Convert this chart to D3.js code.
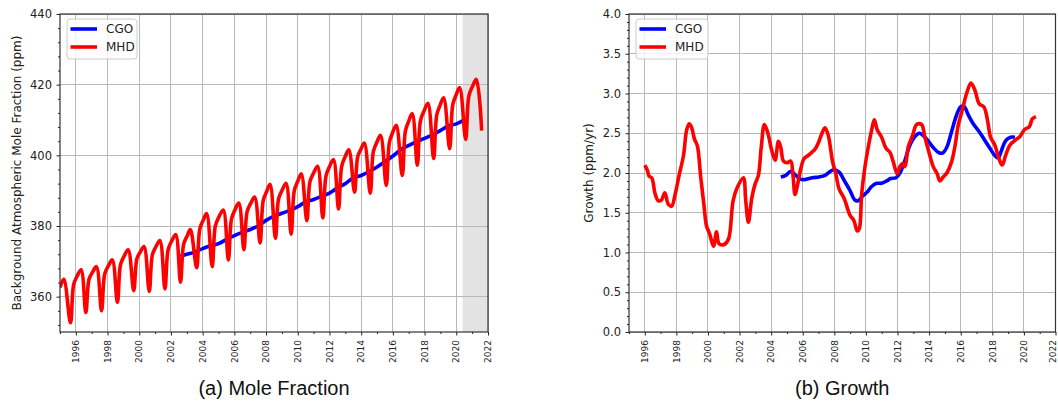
<!DOCTYPE html>
<html>
<head>
<meta charset="utf-8">
<script src="https://cdn.jsdelivr.net/npm/d3@7"></script>
<style>
  html, body { margin: 0; padding: 0; background: #fff; }
  svg { display: block; }
</style>
</head>
<body>
<script>
// ---- Data ----------------------------------------------------------------
// Background CO2 mole fraction (ppm), Mace Head (MHD) and Cape Grim (CGO)
const mhdMoleYears = [
  1995.00, 1995.24, 1995.66, 1995.86, 1996.08, 1996.33, 1996.63, 1996.83, 1997.06, 1997.30,
  1997.62, 1997.82, 1998.05, 1998.30, 1998.62, 1998.82, 1999.05, 1999.30, 1999.65, 1999.85,
  2000.07, 2000.30, 2000.63, 2000.83, 2001.06, 2001.30, 2001.62, 2001.82, 2002.05, 2002.30,
  2002.60, 2002.80, 2003.02, 2003.22, 2003.62, 2003.82, 2004.04, 2004.25, 2004.60, 2004.80,
  2005.03, 2005.30, 2005.62, 2005.82, 2006.04, 2006.28, 2006.60, 2006.80, 2007.03, 2007.28,
  2007.62, 2007.82, 2008.04, 2008.25, 2008.59, 2008.79, 2009.02, 2009.26, 2009.58, 2009.78,
  2010.00, 2010.22, 2010.57, 2010.77, 2011.00, 2011.25, 2011.58, 2011.78, 2012.00, 2012.25,
  2012.57, 2012.77, 2012.99, 2013.22, 2013.58, 2013.78, 2013.99, 2014.20, 2014.57, 2014.77,
  2014.99, 2015.22, 2015.58, 2015.78, 2015.99, 2016.21, 2016.59, 2016.79, 2017.00, 2017.22,
  2017.54, 2017.74, 2017.97, 2018.21, 2018.57, 2018.77, 2018.98, 2019.20, 2019.58, 2019.78,
  2019.99, 2020.21, 2020.59, 2020.79, 2021.02, 2021.26, 2021.60
];
const mhdMoleValues = [
  362.6, 364.9, 352.6, 363.4, 365.8, 367.6, 355.5, 364.9, 367.0, 368.5,
  356.0, 366.4, 368.7, 370.4, 358.4, 369.1, 371.5, 373.3, 361.7, 370.7,
  372.7, 374.2, 361.5, 371.9, 374.2, 375.9, 362.2, 373.3, 375.8, 377.6,
  364.1, 374.8, 377.2, 379.0, 368.2, 379.2, 381.7, 383.5, 368.5, 380.0,
  382.6, 384.5, 370.4, 382.0, 384.6, 386.5, 373.3, 384.0, 386.4, 388.2,
  375.2, 387.2, 389.8, 391.8, 376.5, 387.7, 390.2, 392.1, 377.7, 390.0,
  392.7, 394.8, 381.5, 392.6, 395.0, 396.9, 382.3, 394.2, 396.8, 398.8,
  384.8, 396.9, 399.6, 401.6, 389.6, 399.6, 401.8, 403.5, 389.3, 401.1,
  403.7, 405.7, 391.5, 403.7, 406.5, 408.5, 394.3, 406.9, 409.7, 411.8,
  397.2, 409.8, 412.6, 414.7, 399.1, 411.5, 414.2, 416.3, 401.9, 414.4,
  417.1, 419.2, 404.5, 416.7, 419.5, 421.5, 407.0
];
const cgoMoleYears = [
  2002.60, 2003.00, 2003.50, 2004.00, 2004.50, 2005.00, 2005.50, 2006.00, 2006.50, 2007.00,
  2007.50, 2008.00, 2008.50, 2009.00, 2009.50, 2010.00, 2010.50, 2011.00, 2011.50, 2012.00,
  2012.50, 2013.00, 2013.50, 2014.00, 2014.50, 2015.00, 2015.50, 2016.00, 2016.50, 2017.00,
  2017.50, 2018.00, 2018.50, 2019.00, 2019.50, 2020.00, 2020.42
];
const cgoMoleValues = [
  371.5, 372.0, 372.6, 373.6, 374.4, 375.0, 376.2, 377.3, 378.2, 379.0,
  380.0, 381.6, 382.8, 383.6, 384.4, 385.5, 386.8, 387.5, 388.4, 389.3,
  390.8, 392.0, 393.6, 394.3, 395.4, 396.7, 398.2, 399.8, 401.6, 402.8,
  403.9, 404.8, 405.8, 407.0, 408.3, 408.9, 409.8
];

// Growth rate (ppm/yr)
const mhdGrowthYears = [
  1996.00, 1996.17, 1996.27, 1996.44, 1996.65, 1996.86, 1997.05, 1997.27, 1997.48, 1997.69,
  1997.92, 1998.17, 1998.45, 1998.64, 1998.81, 1998.97, 1999.14, 1999.33, 1999.54, 1999.76,
  1999.90, 2000.11, 2000.35, 2000.54, 2000.70, 2001.02, 2001.30, 2001.59, 2001.86, 2002.24,
  2002.39, 2002.56, 2002.77, 2002.98, 2003.19, 2003.38, 2003.57, 2003.78, 2004.04, 2004.25,
  2004.46, 2004.61, 2004.78, 2005.03, 2005.24, 2005.39, 2005.51, 2005.68, 2005.87, 2006.08,
  2006.34, 2006.57, 2006.78, 2006.99, 2007.20, 2007.41, 2007.62, 2007.88, 2008.09, 2008.30,
  2008.62, 2008.99, 2009.24, 2009.45, 2009.58, 2009.73, 2009.94, 2010.15, 2010.36, 2010.53,
  2010.72, 2010.99, 2011.27, 2011.52, 2011.73, 2011.98, 2012.15, 2012.32, 2012.47, 2012.68,
  2012.95, 2013.21, 2013.52, 2013.73, 2013.95, 2014.26, 2014.51, 2014.68, 2014.89, 2015.15,
  2015.42, 2015.63, 2015.84, 2016.12, 2016.37, 2016.65, 2016.90, 2017.17, 2017.47, 2017.68,
  2017.89, 2018.16, 2018.42, 2018.63, 2018.84, 2019.11, 2019.43, 2019.75, 2020.06, 2020.34,
  2020.53, 2020.76
];
const mhdGrowthValues = [
  2.10, 2.03, 1.96, 1.94, 1.74, 1.65, 1.66, 1.75, 1.61, 1.58,
  1.73, 1.97, 2.22, 2.53, 2.62, 2.57, 2.43, 2.34, 1.95, 1.57,
  1.34, 1.23, 1.08, 1.26, 1.11, 1.10, 1.17, 1.65, 1.82, 1.94,
  1.65, 1.38, 1.68, 1.86, 1.97, 2.34, 2.61, 2.51, 2.28, 2.16,
  2.40, 2.32, 2.15, 2.13, 2.15, 1.95, 1.73, 1.86, 2.05, 2.18,
  2.22, 2.26, 2.30, 2.38, 2.49, 2.57, 2.47, 2.15, 1.99, 1.80,
  1.68, 1.47, 1.40, 1.27, 1.30, 1.74, 2.08, 2.33, 2.54, 2.67,
  2.54, 2.45, 2.31, 2.26, 2.14, 1.99, 2.08, 2.12, 2.08, 2.33,
  2.47, 2.61, 2.61, 2.45, 2.29, 2.08, 1.99, 1.90, 1.95, 2.01,
  2.14, 2.33, 2.60, 2.81, 3.00, 3.13, 3.04, 2.87, 2.83, 2.68,
  2.45, 2.35, 2.18, 2.10, 2.22, 2.35, 2.41, 2.46, 2.55, 2.58,
  2.68, 2.71
];
const cgoGrowthYears = [
  2004.61, 2004.92, 2005.24, 2005.56, 2005.87, 2006.19, 2006.61, 2007.03, 2007.41, 2007.67,
  2007.98, 2008.30, 2008.67, 2008.99, 2009.30, 2009.51, 2009.79, 2010.08, 2010.36, 2010.68,
  2010.99, 2011.31, 2011.56, 2011.90, 2012.15, 2012.47, 2012.78, 2013.10, 2013.38, 2013.63,
  2013.95, 2014.26, 2014.58, 2014.85, 2015.11, 2015.42, 2015.74, 2015.99, 2016.20, 2016.48,
  2016.79, 2017.17, 2017.53, 2017.85, 2018.16, 2018.38, 2018.59, 2018.86, 2019.16, 2019.43
];
const cgoGrowthValues = [
  1.95, 1.97, 2.02, 1.97, 1.92, 1.92, 1.94, 1.95, 1.97, 2.01,
  2.04, 2.01, 1.89, 1.78, 1.66, 1.65, 1.71, 1.76, 1.83, 1.87,
  1.87, 1.90, 1.93, 1.94, 2.00, 2.16, 2.35, 2.46, 2.50, 2.47,
  2.40, 2.32, 2.26, 2.25, 2.32, 2.52, 2.73, 2.83, 2.84, 2.73,
  2.62, 2.52, 2.41, 2.31, 2.22, 2.19, 2.29, 2.41, 2.45, 2.45
];

// Axis ticks
const yearTicks = d3.range(1996, 2023, 2);
const yearMinorTicks = d3.range(1995, 2023, 1).filter(y => y % 2 !== 0);
const moleTicks = [360, 380, 400, 420, 440];
const moleMinorTicks = [352, 356, 364, 368, 372, 376, 384, 388, 392, 396, 404, 408, 412, 416, 424, 428, 432, 436];
const growthTicks = [0.0, 0.5, 1.0, 1.5, 2.0, 2.5, 3.0, 3.5, 4.0];
const growthMinorTicks = d3.range(0, 41, 1).filter(i => i % 5 !== 0).map(i => i / 10);

// Provisional period shading
const provisionalSpan = [2020.4, 2022];

const seriesNames = ["CGO", "MHD"];
const seriesColors = { CGO: "#0000ff", MHD: "#ff0000" };

// ---- Drawing ---------------------------------------------------------------
const W = 1058, H = 405;
const svg = d3.select("body").append("svg").attr("width", W).attr("height", H);
const tickFont = "'DejaVu Sans', sans-serif";

function drawPanel(cfg) {
  const x = d3.scaleLinear().domain([1995, 2022]).range([cfg.left, cfg.right]);
  const y = d3.scaleLinear().domain(cfg.yDomain).range([cfg.bottom, cfg.top]);
  const g = svg.append("g");

  const clipId = "clip-" + cfg.id;
  svg.append("clipPath").attr("id", clipId).append("rect")
    .attr("x", cfg.left).attr("y", cfg.top)
    .attr("width", cfg.right - cfg.left).attr("height", cfg.bottom - cfg.top);

  if (cfg.shade) {
    g.append("rect")
      .attr("x", x(cfg.shade[0])).attr("y", cfg.top)
      .attr("width", x(cfg.shade[1]) - x(cfg.shade[0]))
      .attr("height", cfg.bottom - cfg.top)
      .attr("fill", "#e3e3e3");
  }

  // grid
  const grid = g.append("g").attr("stroke", "#b8b8b8").attr("stroke-width", 1)
    .attr("shape-rendering", "crispEdges");
  grid.selectAll(".gx").data(yearTicks).join("line")
    .attr("x1", d => x(d)).attr("x2", d => x(d))
    .attr("y1", cfg.top).attr("y2", cfg.bottom);
  grid.selectAll(".gy").data(cfg.yTicks).join("line")
    .attr("x1", cfg.left).attr("x2", cfg.right)
    .attr("y1", d => y(d)).attr("y2", d => y(d));

  // series
  const lines = g.append("g").attr("clip-path", `url(#${clipId})`);
  cfg.series.forEach(s => {
    const pts = s.years.map((t, i) => [t, s.values[i]]);
    lines.append("path")
      .datum(pts)
      .attr("fill", "none")
      .attr("stroke", seriesColors[s.name])
      .attr("stroke-width", 3.6)
      .attr("stroke-linejoin", "round")
      .attr("d", d3.line().x(d => x(d[0])).y(d => y(d[1])).curve(d3.curveCatmullRom.alpha(0.5)));
  });

  // axes
  const xAxis = g.append("g").attr("transform", `translate(0,${cfg.bottom})`)
    .call(d3.axisBottom(x).tickValues(yearTicks).tickSize(3.5).tickFormat(d3.format("d")));
  xAxis.selectAll("text")
    .attr("transform", "rotate(-90)")
    .attr("text-anchor", "end")
    .attr("x", -8).attr("y", 0)
    .attr("dy", d => (cfg.edgeLabelShift && d === 2022) ? "0.05em" : "0.3em")
    .style("font-family", tickFont).style("font-size", "9px").attr("fill", "#222");
  g.append("g").attr("transform", `translate(0,${cfg.bottom})`)
    .call(d3.axisBottom(x).tickValues(yearMinorTicks).tickSize(2).tickFormat(""));

  const yAxis = g.append("g").attr("transform", `translate(${cfg.left},0)`)
    .call(d3.axisLeft(y).tickValues(cfg.yTicks).tickSize(3.5).tickPadding(4.5).tickFormat(cfg.yFormat));
  yAxis.selectAll("text").style("font-family", tickFont).style("font-size", "11.5px").attr("fill", "#222");
  g.append("g").attr("transform", `translate(${cfg.left},0)`)
    .call(d3.axisLeft(y).tickValues(cfg.yMinor).tickSize(2).tickFormat(""));

  g.selectAll(".domain").remove();
  g.selectAll(".tick line").attr("stroke", "#222");

  // frame
  g.append("rect")
    .attr("x", cfg.left).attr("y", cfg.top)
    .attr("width", cfg.right - cfg.left).attr("height", cfg.bottom - cfg.top)
    .attr("fill", "none").attr("stroke", "#333").attr("stroke-width", 1.2);

  // legend
  const lg = g.append("g").attr("transform", `translate(${cfg.left + 7},${cfg.top + 5})`);
  lg.append("rect").attr("width", cfg.legendW).attr("height", 40).attr("rx", 3)
    .attr("fill", "#fff").attr("fill-opacity", 0.8).attr("stroke", "#cccccc");
  seriesNames.forEach((name, i) => {
    const yy = 10 + i * 18;
    lg.append("line").attr("x1", 3.5).attr("x2", 30).attr("y1", yy).attr("y2", yy)
      .attr("stroke", seriesColors[name]).attr("stroke-width", 3.6);
    lg.append("text").attr("x", 39).attr("y", yy).attr("dy", "0.36em")
      .style("font-family", tickFont).style("font-size", "12px").attr("fill", "#222")
      .text(name);
  });

  // axis label
  g.append("text")
    .attr("transform", `translate(${cfg.yLabelX},${(cfg.top + cfg.bottom) / 2}) rotate(-90)`)
    .attr("text-anchor", "middle").attr("dy", "0.35em")
    .style("font-family", tickFont).style("font-size", "12px").attr("fill", "#222")
    .text(cfg.yLabel);

  // caption
  g.append("text")
    .attr("x", (cfg.left + cfg.right) / 2).attr("y", 395)
    .attr("text-anchor", "middle")
    .style("font-family", "'Liberation Sans', Arial, sans-serif").style("font-size", "20px")
    .attr("fill", "#111")
    .text(cfg.caption);
}

drawPanel({
  id: "mole", left: 60, right: 488, top: 14, bottom: 332,
  yDomain: [350, 440], yTicks: moleTicks, yMinor: moleMinorTicks, yFormat: d3.format("d"),
  shade: provisionalSpan,
  series: [
    { name: "CGO", years: cgoMoleYears, values: cgoMoleValues },
    { name: "MHD", years: mhdMoleYears, values: mhdMoleValues }
  ],
  legendW: 70,
  yLabel: "Background Atmospheric Mole Fraction (ppm)", yLabelX: 17,
  caption: "(a) Mole Fraction"
});

drawPanel({
  id: "growth", left: 629, right: 1055.5, top: 14, bottom: 332,
  yDomain: [0, 4], yTicks: growthTicks, yMinor: growthMinorTicks, yFormat: d3.format(".1f"),
  shade: null,
  edgeLabelShift: true,
  series: [
    { name: "CGO", years: cgoGrowthYears, values: cgoGrowthValues },
    { name: "MHD", years: mhdGrowthYears, values: mhdGrowthValues }
  ],
  legendW: 72,
  yLabel: "Growth (ppm/yr)", yLabelX: 589,
  caption: "(b) Growth"
});
</script>
</body>
</html>
